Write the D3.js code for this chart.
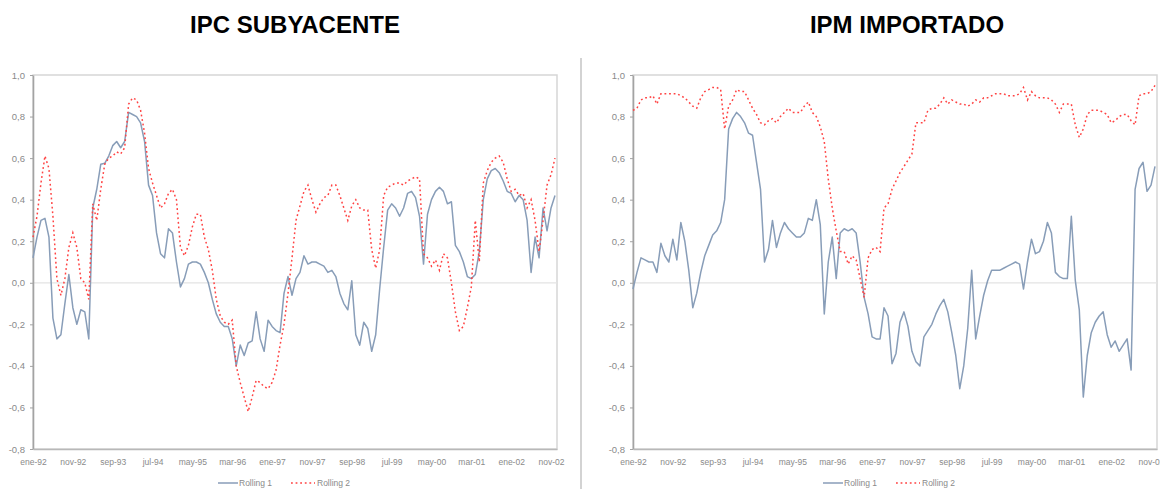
<!DOCTYPE html>
<html><head><meta charset="utf-8">
<script src="https://cdn.jsdelivr.net/npm/d3@7"></script>
<style>
body{margin:0;background:#fff;}
svg{display:block;font-family:"Liberation Sans",Arial,sans-serif;}
</style>
</head><body>
<svg id="chart" width="1160" height="489"></svg>
<script>
// ---------- data ----------
const monthNames = ["ene","feb","mar","abr","may","jun","jul","ago","sep","oct","nov","dic"];
const startYear = 92;
const nMonths = 132;
const categories = d3.range(nMonths).map(i => monthNames[i % 12] + "-" + String((startYear + Math.floor(i / 12)) % 100).padStart(2, "0"));
const tickLabels = ["ene-92","nov-92","sep-93","jul-94","may-95","mar-96","ene-97","nov-97","sep-98","jul-99","may-00","mar-01","ene-02","nov-02"];
const yTicks = [-0.8,-0.6,-0.4,-0.2,0.0,0.2,0.4,0.6,0.8,1.0];
const seriesNames = ["Rolling 1","Rolling 2"];
const titles = ["IPC SUBYACENTE","IPM IMPORTADO"];

const ipcRolling1 = [
0.12,0.22,0.30,0.31,0.22,-0.17,-0.27,-0.25,-0.10,0.04,
-0.12,-0.20,-0.13,-0.14,-0.27,0.36,0.45,0.57,0.575,0.61,
0.66,0.68,0.65,0.68,0.82,0.81,0.80,0.77,0.68,0.47,
0.42,0.24,0.14,0.12,0.26,0.24,0.10,-0.02,0.02,0.09,
0.10,0.10,0.09,0.05,0.00,-0.08,-0.15,-0.19,-0.21,-0.21,
-0.27,-0.40,-0.30,-0.35,-0.29,-0.28,-0.14,-0.27,-0.33,-0.18,
-0.21,-0.23,-0.24,-0.05,0.03,-0.06,0.02,0.05,0.13,0.09,
0.10,0.10,0.09,0.08,0.05,0.06,0.03,-0.05,-0.10,-0.13,
0.01,-0.25,-0.30,-0.19,-0.22,-0.33,-0.25,-0.03,0.17,0.35,
0.38,0.36,0.32,0.36,0.43,0.44,0.41,0.32,0.09,0.33,
0.40,0.44,0.46,0.44,0.38,0.39,0.18,0.15,0.10,0.03,
0.02,0.04,0.15,0.40,0.50,0.54,0.55,0.53,0.49,0.44,
0.43,0.39,0.42,0.40,0.30,0.05,0.22,0.12,0.36,0.25,
0.36,0.42];

const ipcRolling2 = [
0.22,0.32,0.48,0.61,0.55,0.32,0.02,-0.06,0.02,0.17,
0.24,0.17,0.02,0.00,-0.08,0.38,0.30,0.45,0.57,0.60,
0.61,0.63,0.62,0.65,0.86,0.89,0.88,0.83,0.72,0.55,
0.48,0.42,0.36,0.38,0.43,0.45,0.40,0.17,0.13,0.18,
0.27,0.33,0.33,0.22,0.16,0.06,-0.08,-0.16,-0.19,-0.20,
-0.18,-0.40,-0.48,-0.55,-0.62,-0.55,-0.47,-0.48,-0.50,-0.51,
-0.48,-0.42,-0.30,-0.20,-0.05,0.12,0.30,0.37,0.44,0.47,
0.40,0.34,0.38,0.41,0.42,0.47,0.47,0.42,0.36,0.30,
0.37,0.40,0.36,0.35,0.35,0.16,0.07,0.16,0.42,0.46,
0.47,0.48,0.48,0.47,0.49,0.50,0.51,0.50,0.14,0.12,
0.08,0.11,0.06,0.14,0.12,0.00,-0.14,-0.23,-0.21,-0.12,
-0.02,0.30,0.10,0.48,0.54,0.58,0.60,0.61,0.58,0.50,
0.44,0.45,0.42,0.43,0.36,0.40,0.30,0.15,0.30,0.47,
0.52,0.60];

const ipmRolling1 = [
-0.03,0.05,0.12,0.11,0.10,0.10,0.05,0.19,0.13,0.10,
0.21,0.11,0.29,0.20,0.06,-0.12,-0.05,0.05,0.13,0.18,
0.23,0.25,0.29,0.40,0.74,0.79,0.82,0.80,0.77,0.72,
0.71,0.58,0.45,0.10,0.16,0.30,0.17,0.24,0.29,0.26,
0.24,0.22,0.22,0.24,0.31,0.30,0.40,0.28,-0.15,0.10,
0.22,0.02,0.24,0.26,0.25,0.26,0.24,0.10,-0.07,-0.15,
-0.26,-0.27,-0.27,-0.12,-0.16,-0.39,-0.34,-0.19,-0.14,-0.21,
-0.33,-0.38,-0.40,-0.26,-0.23,-0.20,-0.15,-0.11,-0.08,-0.14,
-0.24,-0.35,-0.51,-0.40,-0.22,0.06,-0.27,-0.16,-0.06,0.01,
0.06,0.06,0.06,0.07,0.08,0.09,0.10,0.09,-0.03,0.10,
0.21,0.14,0.15,0.20,0.29,0.24,0.05,0.03,0.02,0.02,
0.32,0.01,-0.13,-0.55,-0.35,-0.24,-0.19,-0.16,-0.14,-0.25,
-0.31,-0.28,-0.33,-0.30,-0.27,-0.42,0.45,0.55,0.58,0.44,
0.47,0.56];

const ipmRolling2 = [
0.83,0.84,0.88,0.89,0.89,0.90,0.86,0.91,0.91,0.91,
0.91,0.91,0.90,0.89,0.87,0.85,0.84,0.89,0.92,0.93,
0.94,0.94,0.93,0.74,0.85,0.88,0.93,0.92,0.92,0.88,
0.84,0.81,0.77,0.76,0.78,0.79,0.77,0.80,0.82,0.84,
0.82,0.82,0.82,0.85,0.87,0.82,0.80,0.75,0.68,0.50,
0.36,0.25,0.15,0.15,0.09,0.13,0.11,0.02,-0.07,0.12,
0.16,0.17,0.15,0.36,0.38,0.45,0.49,0.53,0.56,0.59,
0.62,0.77,0.77,0.77,0.83,0.84,0.84,0.86,0.89,0.86,
0.88,0.87,0.86,0.86,0.85,0.86,0.88,0.87,0.89,0.89,
0.90,0.91,0.91,0.91,0.90,0.90,0.90,0.91,0.94,0.88,
0.92,0.90,0.89,0.89,0.89,0.88,0.86,0.82,0.86,0.86,
0.86,0.76,0.70,0.74,0.81,0.83,0.83,0.83,0.82,0.81,
0.77,0.78,0.80,0.81,0.81,0.78,0.76,0.90,0.91,0.91,
0.92,0.95];

// ---------- layout ----------
const svg = d3.select("#chart");
const W = 1160, H = 489;
const plotTop = 75, plotBottom = 449;
const panels = [
  {title: titles[0], r1: ipcRolling1, r2: ipcRolling2, x0: 33, x1: 557, titleX: 295, legendX: 218},
  {title: titles[1], r1: ipmRolling1, r2: ipmRolling2, x0: 633, x1: 1157, titleX: 907, legendX: 823}
];
const blue = "#889db8";
const red = "#ff4242";
const fmt = d => (d < -1e-9 ? "-" : "") + Math.abs(d).toFixed(1).replace(".", ",");

// divider
svg.append("line").attr("x1", 581).attr("x2", 581).attr("y1", 58).attr("y2", H)
  .attr("stroke", "#c4c4c4").attr("stroke-width", 1.5);

panels.forEach(p => {
  const g = svg.append("g");
  const x = d3.scaleLinear().domain([0, nMonths - 0.5]).range([p.x0, p.x1]);
  const y = d3.scaleLinear().domain([-0.8, 1.0]).range([plotBottom, plotTop]);

  // title
  g.append("text").attr("x", p.titleX).attr("y", 33).attr("text-anchor", "middle")
    .attr("font-size", 24).attr("font-weight", "bold").attr("fill", "#000").text(p.title);

  // frame
  g.append("rect").attr("x", p.x0).attr("y", plotTop).attr("width", p.x1 - p.x0).attr("height", plotBottom - plotTop)
    .attr("fill", "none").attr("stroke", "#d6d6d6").attr("stroke-width", 1.5);

  // zero line
  g.append("line").attr("x1", p.x0).attr("x2", p.x1).attr("y1", y(0)).attr("y2", y(0))
    .attr("stroke", "#e3e3e3").attr("stroke-width", 1.2);

  // y axis
  const ya = g.append("g").attr("transform", `translate(${p.x0},0)`)
    .call(d3.axisLeft(y).tickValues(yTicks).tickFormat(fmt).tickSize(3).tickPadding(5).tickSizeOuter(0));
  ya.select(".domain").attr("stroke", "#a3a3a3").attr("stroke-width", 1.6);
  ya.selectAll(".tick line").attr("stroke", "#a3a3a3");
  ya.selectAll(".tick text").attr("font-size", 9.5).attr("fill", "#8a8a8a").attr("font-family", "Liberation Sans, Arial, sans-serif");

  // x axis
  const tickIdx = tickLabels.map(l => categories.indexOf(l));
  const xa = g.append("g").attr("transform", `translate(0,${plotBottom})`)
    .call(d3.axisBottom(x).tickValues(tickIdx).tickFormat(i => categories[i]).tickSize(0).tickPadding(10).tickSizeOuter(0));
  xa.select(".domain").attr("stroke", "#b8b8b8").attr("stroke-width", 1.5);
  xa.selectAll(".tick text").attr("font-size", 8.5).attr("fill", "#8a8a8a").attr("font-family", "Liberation Sans, Arial, sans-serif");

  // lines
  const line = d3.line().x((d, i) => x(i)).y(d => y(d));
  g.append("path").datum(p.r1).attr("d", line).attr("fill", "none")
    .attr("stroke", blue).attr("stroke-width", 1.5).attr("stroke-linejoin", "round");
  g.append("path").datum(p.r2).attr("d", line).attr("fill", "none")
    .attr("stroke", red).attr("stroke-width", 1.5).attr("stroke-dasharray", "1.8,2.8");

  // legend
  const ly = 483;
  const lg = g.append("g");
  lg.append("line").attr("x1", p.legendX).attr("x2", p.legendX + 20).attr("y1", ly).attr("y2", ly)
    .attr("stroke", blue).attr("stroke-width", 1.5);
  lg.append("text").attr("x", p.legendX + 21).attr("y", ly).attr("dy", "0.35em")
    .attr("font-size", 8.5).attr("fill", "#8a8a8a").text(seriesNames[0]);
  const l2 = p.legendX + 73;
  lg.append("line").attr("x1", l2).attr("x2", l2 + 24).attr("y1", ly).attr("y2", ly)
    .attr("stroke", red).attr("stroke-width", 1.5).attr("stroke-dasharray", "1.8,2.8");
  lg.append("text").attr("x", l2 + 26).attr("y", ly).attr("dy", "0.35em")
    .attr("font-size", 8.5).attr("fill", "#8a8a8a").text(seriesNames[1]);
});
</script>
</body></html>
